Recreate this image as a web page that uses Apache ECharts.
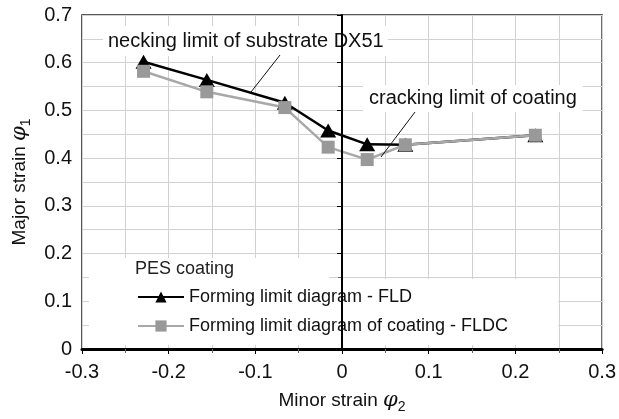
<!DOCTYPE html>
<html>
<head>
<meta charset="utf-8">
<script src="https://cdn.jsdelivr.net/npm/echarts@6/dist/echarts.min.js"></script>
<style>
html, body { margin: 0; padding: 0; background: #fff; }
#chart { width: 619px; height: 419px; }
</style>
</head>
<body>
<div id="chart"></div>
<script>
// minor strain (x) for each measuring point
var minorStrain = [-0.229, -0.156, -0.066, -0.016, 0.029, 0.073, 0.223];
// major strain of substrate (FLD) and coating (FLDC)
var fldValues = [0.602, 0.564, 0.516, 0.458, 0.429, 0.428, 0.448];
var fldcValues = [0.582, 0.539, 0.506, 0.423, 0.397, 0.428, 0.448];
var xTicks = [-0.3, -0.2, -0.1, 0, 0.1, 0.2, 0.3];
var yTicks = [0, 0.1, 0.2, 0.3, 0.4, 0.5, 0.6, 0.7];

var font = 'Liberation Sans, Arial, sans-serif';

function pairs(xs, ys) {
	var out = [];
	for (var i = 0; i < xs.length; i++) out.push([xs[i], ys[i]]);
	return out;
}

function tickText(v) {
	return Math.abs(v) < 1e-9 ? '0' : v.toFixed(1);
}

var nameRich = {
	p: { fontSize: 21, fontStyle: 'italic', fontFamily: 'DejaVu Serif, serif', color: '#111' },
	s: { fontSize: 14, padding: [13, 0, 0, 0], color: '#111' }
};

var chart = echarts.init(document.getElementById('chart'));

var option = {
	animation: false,
	backgroundColor: '#fff',
	textStyle: { fontFamily: font },
	grid: {
		left: 82, right: 15, top: 15, bottom: 67,
		show: true, borderColor: '#222', borderWidth: 1.5
	},
	legend: {
		orient: 'vertical',
		left: 89, top: 279,
		padding: [9, 50, 10, 48],
		backgroundColor: '#fff',
		itemWidth: 46, itemHeight: 14, itemGap: 11,
		textStyle: { fontSize: 18, lineHeight: 14, color: '#111', fontFamily: font },
		data: ['Forming limit diagram - FLD', 'Forming limit diagram of coating - FLDC']
	},
	xAxis: {
		type: 'value',
		min: xTicks[0], max: xTicks[xTicks.length - 1], interval: 0.1,
		name: 'Minor strain {p|φ}{s|2}',
		nameLocation: 'middle', nameGap: 38,
		nameTextStyle: { fontSize: 19, color: '#111', fontFamily: font, rich: nameRich },
		axisLine: { lineStyle: { color: '#000', width: 3 } },
		axisTick: { show: true, length: 5, lineStyle: { color: '#000' } },
		minorTick: { show: true, splitNumber: 2, length: 4, lineStyle: { color: '#666' } },
		axisLabel: { fontSize: 20, color: '#111', margin: 13, formatter: tickText },
		splitLine: { show: true, lineStyle: { color: '#d2d2d2', width: 1 } },
		minorSplitLine: { show: true, lineStyle: { color: '#d2d2d2', width: 1 } }
	},
	yAxis: {
		type: 'value',
		min: yTicks[0], max: yTicks[yTicks.length - 1], interval: 0.1,
		name: 'Major strain {p|φ}{s|1}',
		nameLocation: 'middle', nameGap: 48,
		nameTextStyle: { fontSize: 19, color: '#111', fontFamily: font, rich: nameRich },
		axisLine: { show: true, lineStyle: { color: '#000', width: 2 } },
		axisTick: { show: true, length: 5, lineStyle: { color: '#000' } },
		minorTick: { show: true, splitNumber: 2, length: 4, lineStyle: { color: '#666' } },
		axisLabel: { fontSize: 20, color: '#111', margin: 10, formatter: tickText },
		splitLine: { show: true, lineStyle: { color: '#d2d2d2', width: 1 } },
		minorSplitLine: { show: true, lineStyle: { color: '#d2d2d2', width: 1 } }
	},
	graphic: [
		{
			type: 'rect', z: 1,
			shape: { x: 89, y: 258, width: 240, height: 21 },
			style: { fill: '#fff' }
		},
		{
			type: 'text', z: 5, x: 135, y: 260,
			style: { text: 'PES coating', font: '18px ' + font, fill: '#222' }
		},
		{
			type: 'text', z: 3, x: 103, y: 26,
			style: {
				text: 'necking limit of substrate DX51', font: '20px ' + font, fill: '#111',
				backgroundColor: '#fff', padding: [5, 4, 5, 5]
			}
		},
		{
			type: 'line', z: 10,
			shape: { x1: 280, y1: 55, x2: 251, y2: 92 },
			style: { stroke: '#111', lineWidth: 1 }
		},
		{
			type: 'text', z: 3, x: 363, y: 85,
			style: {
				text: 'cracking limit of coating', font: '20px ' + font, fill: '#111',
				backgroundColor: '#fff', padding: [3, 6, 4, 6]
			}
		},
		{
			type: 'line', z: 10,
			shape: { x1: 415, y1: 112, x2: 381, y2: 157 },
			style: { stroke: '#111', lineWidth: 1 }
		}
	],
	series: [
		{
			name: 'Forming limit diagram - FLD',
			type: 'line',
			data: pairs(minorStrain, fldValues),
			symbol: 'triangle', symbolSize: [16, 14],
			itemStyle: { color: '#000' },
			lineStyle: { color: '#000', width: 2.5 },
			markLine: {
				silent: true, symbol: 'none',
				label: { show: false },
				lineStyle: { color: '#000', width: 2, type: 'solid' },
				data: [{ xAxis: 0 }]
			}
		},
		{
			name: 'Forming limit diagram of coating - FLDC',
			type: 'line',
			data: pairs(minorStrain, fldcValues),
			symbol: 'rect', symbolSize: 13,
			itemStyle: { color: '#999' },
			lineStyle: { color: '#a8a8a8', width: 2.5 }
		}
	]
};

chart.setOption(option);
</script>
</body>
</html>
